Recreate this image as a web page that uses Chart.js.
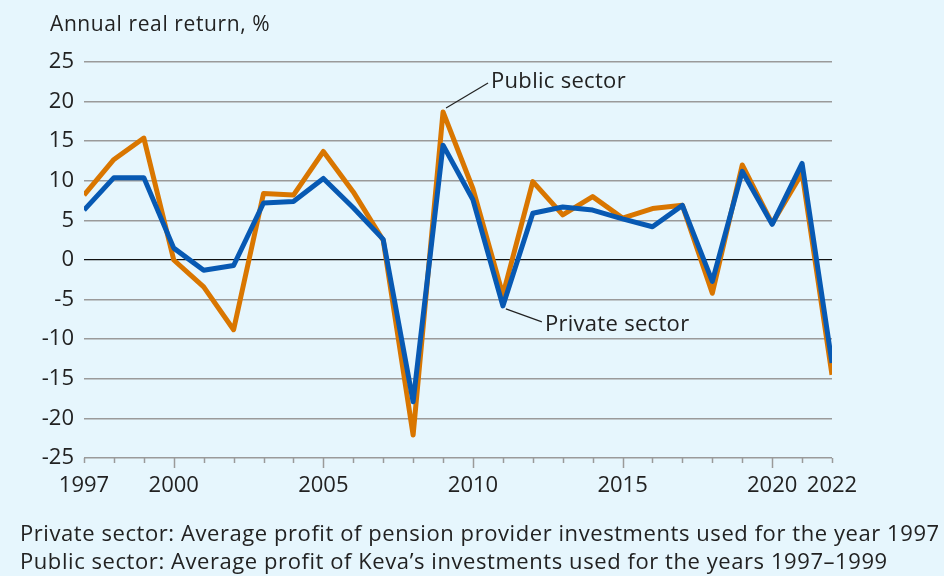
<!DOCTYPE html>
<html><head><meta charset="utf-8">
<script src="https://cdn.jsdelivr.net/npm/chart.js@4/dist/chart.umd.min.js"></script>
<style>html,body{margin:0;padding:0;background:#e6f6fd;}#wrap{width:944px;height:576px;position:relative;}</style>
</head><body><div id="wrap"><canvas id="c" width="944" height="576"></canvas></div>
<script>
const years = [1997,1998,1999,2000,2001,2002,2003,2004,2005,2006,2007,2008,2009,2010,2011,2012,2013,2014,2015,2016,2017,2018,2019,2020,2021,2022];
const publicSector = [8.2,12.7,15.4,0.0,-3.4,-8.8,8.4,8.2,13.7,8.6,2.5,-22.1,18.7,9.0,-4.4,9.9,5.7,8.0,5.3,6.5,6.9,-4.2,12.0,4.6,11.0,-14.5];
const privateSector = [6.3,10.4,10.4,1.5,-1.3,-0.7,7.2,7.4,10.3,6.6,2.6,-17.9,14.5,7.6,-5.8,5.9,6.7,6.3,5.2,4.2,6.9,-2.7,11.2,4.5,12.2,-13.0];
const xTickLabels = [1997,2000,2005,2010,2015,2020,2022];
const yTicks = [-25,-20,-15,-10,-5,0,5,10,15,20,25];
const yTitle = "Annual real return, %";
const notes = ["Private sector: Average profit of pension provider investments used for the year 1997","Public sector: Average profit of Keva\u2019s investments used for the years 1997\u20131999"];

const FONT = "'Open Sans', 'Noto Sans', sans-serif";
const toXY = arr => arr.map((v,i)=>({x:years[i],y:v}));

const overlay = {
  id:'overlay',
  beforeDraw(chart){
    const ctx=chart.ctx; ctx.save(); ctx.fillStyle='#e6f6fd'; ctx.fillRect(0,0,chart.width,chart.height); ctx.restore();
  },
  afterDraw(chart){
    const ctx=chart.ctx, xs=chart.scales.x, ys=chart.scales.y, a=chart.chartArea;
    ctx.save();
    // tick marks
    ctx.strokeStyle='#9a9a9a'; ctx.lineWidth=1.5;
    years.forEach(yr=>{
      const px=Math.round(xs.getPixelForValue(yr))+0.5;
      const long = (yr%5===0);
      ctx.beginPath(); ctx.moveTo(px,a.bottom); ctx.lineTo(px,a.bottom+(long?10:5)); ctx.stroke();
    });
    // title
    ctx.fillStyle='#222'; ctx.textBaseline='alphabetic'; ctx.textAlign='left';
    ctx.font='21px '+FONT; ctx.letterSpacing='0.6px';
    ctx.fillText(yTitle,50,31);
    // notes
    ctx.font='22px '+FONT; ctx.letterSpacing='0.1px';
    const w=ctx.measureText(notes[0]).width;
    const ls=(920-w)/notes[0].length;
    ctx.letterSpacing=(0.1+ls).toFixed(2)+'px';
    ctx.fillText(notes[0],20,541);
    ctx.fillText(notes[1],20,569);
    // annotations
    ctx.font='22px '+FONT; ctx.letterSpacing='0.3px'; ctx.strokeStyle='#222'; ctx.lineWidth=1.2;
    const i09=years.indexOf(2009), i11=years.indexOf(2011);
    const p1x=xs.getPixelForValue(2009)+3, p1y=ys.getPixelForValue(publicSector[i09])-4;
    ctx.beginPath(); ctx.moveTo(p1x,p1y); ctx.lineTo(p1x+42,p1y-25); ctx.stroke();
    ctx.fillText('Public sector',p1x+45,p1y-20);
    const p2x=xs.getPixelForValue(2011)+3, p2y=ys.getPixelForValue(privateSector[i11])+3;
    ctx.beginPath(); ctx.moveTo(p2x,p2y); ctx.lineTo(p2x+36,p2y+13); ctx.stroke();
    ctx.fillText('Private sector',p2x+39,p2y+22);
    ctx.restore();
  }
};

new Chart(document.getElementById('c'),{
  type:'line',
  data:{datasets:[
    {label:'Private sector',data:toXY(privateSector),borderColor:'#0759b3',borderWidth:5,pointRadius:0,tension:0,borderJoinStyle:'round',fill:false},
    {label:'Public sector',data:toXY(publicSector),borderColor:'#d97600',borderWidth:5,pointRadius:0,tension:0,borderJoinStyle:'round',fill:false}
  ]},
  options:{
    responsive:false,animation:false,
    layout:{padding:{left:0,right:112,top:62,bottom:0}},
    plugins:{legend:{display:false},tooltip:{enabled:false},title:{display:false}},
    scales:{
      x:{type:'linear',min:1997,max:2022,
        afterBuildTicks(s){s.ticks=xTickLabels.map(v=>({value:v}));},
        afterFit(s){s.height=118;},
        grid:{display:false,drawTicks:false},
        border:{display:false},
        ticks:{autoSkip:false,maxRotation:0,padding:15,color:'#222',font:{family:FONT,size:22},callback:v=>String(v)}
      },
      y:{min:-25,max:25,
        afterBuildTicks(s){s.ticks=yTicks.map(v=>({value:v}));},
        afterFit(s){s.width=84;},
        border:{display:false},
        grid:{drawTicks:false,color:c=>c.tick.value===0?'#111':'#9a9a9a',lineWidth:c=>c.tick.value===0?1.2:1.6},
        ticks:{padding:10,color:'#222',font:{family:FONT,size:22},callback:v=>String(v)}
      }
    }
  },
  plugins:[overlay]
});
</script></body></html>
